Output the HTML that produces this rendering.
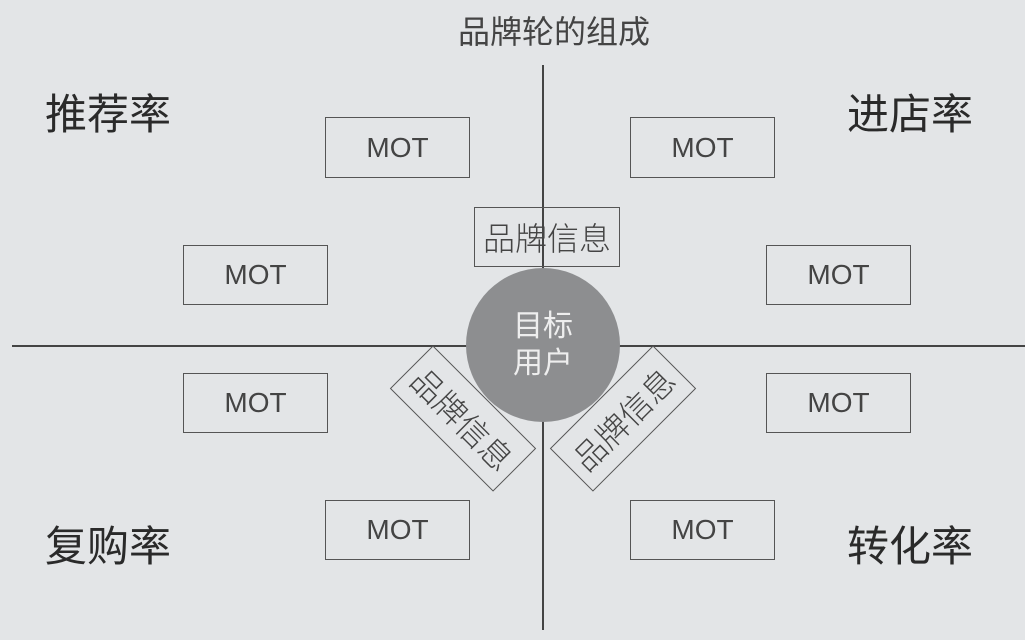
<!DOCTYPE html>
<html><head><meta charset="utf-8"><style>
body{margin:0;width:1025px;height:640px;background:#e3e5e7;position:relative;overflow:hidden;font-family:"Liberation Sans","Noto Sans CJK SC",sans-serif;color:#333}
.a{position:absolute}
.box{position:absolute;border:1.5px solid #555;box-sizing:border-box;display:flex;align-items:center;justify-content:center;font-size:28px;color:#444;font-weight:300}
.big{position:absolute;font-size:42px;color:#2a2a2a;line-height:42px}
</style></head><body>
<div class="a" style="left:458px;top:12px;font-size:32px;color:#444;line-height:40px;white-space:nowrap">品牌轮的组成</div>
<div class="a" style="left:542px;top:65px;width:1.5px;height:565px;background:#444"></div>
<div class="a" style="left:12px;top:345px;width:1013px;height:1.5px;background:#444"></div>
<div class="big" style="left:45px;top:94px">推荐率</div>
<div class="big" style="left:847px;top:94px">进店率</div>
<div class="big" style="left:45px;top:526px">复购率</div>
<div class="big" style="left:847px;top:526px">转化率</div>
<div class="box" style="left:325px;top:117px;width:145px;height:61px">MOT</div>
<div class="box" style="left:183px;top:245px;width:145px;height:60px">MOT</div>
<div class="box" style="left:183px;top:373px;width:145px;height:60px">MOT</div>
<div class="box" style="left:325px;top:500px;width:145px;height:60px">MOT</div>
<div class="box" style="left:630px;top:117px;width:145px;height:61px">MOT</div>
<div class="box" style="left:766px;top:245px;width:145px;height:60px">MOT</div>
<div class="box" style="left:766px;top:373px;width:145px;height:60px">MOT</div>
<div class="box" style="left:630px;top:500px;width:145px;height:60px">MOT</div>
<div class="box" style="left:474px;top:207px;width:146px;height:60px;font-size:32px;background:transparent">品牌信息</div>
<div class="box" style="left:390px;top:388px;width:146px;height:61px;font-size:32px;transform:rotate(45deg)">品牌信息</div>
<div class="box" style="left:550px;top:388px;width:146px;height:61px;font-size:32px;transform:rotate(-45deg)">品牌信息</div>
<div class="a" style="left:466px;top:268px;width:154px;height:154px;border-radius:50%;background:#8d8e90;color:#eee;font-size:30px;line-height:37px;display:flex;align-items:center;justify-content:center;text-align:center">目标<br>用户</div>
</body></html>
